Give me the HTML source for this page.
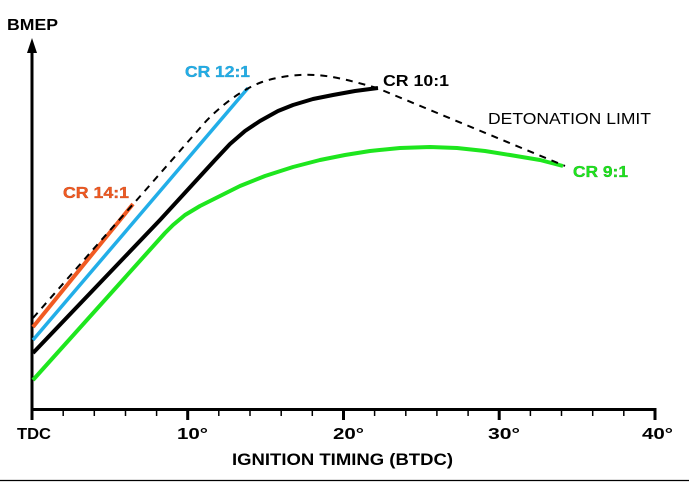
<!DOCTYPE html>
<html>
<head>
<meta charset="utf-8">
<style>
html,body{margin:0;padding:0;background:#fff;}
svg{display:block;}
text{font-family:"Liberation Sans",sans-serif;}
</style>
</head>
<body>
<svg width="689" height="487" viewBox="0 0 689 487" xmlns="http://www.w3.org/2000/svg">
<rect width="689" height="487" fill="#fff"/>
<line x1="0" y1="480.5" x2="689" y2="480.5" stroke="#000" stroke-width="1.2"/>
<line x1="32" y1="50" x2="32" y2="411" stroke="#000" stroke-width="3"/>
<polygon points="32,38 27,53 37,53" fill="#000"/>
<line x1="30.5" y1="409.5" x2="656.5" y2="409.5" stroke="#000" stroke-width="3"/>
<g stroke="#000" stroke-width="3">
<line x1="32" y1="409" x2="32" y2="420"/>
<line x1="187.7" y1="409" x2="187.7" y2="420"/>
<line x1="343.5" y1="409" x2="343.5" y2="420"/>
<line x1="499.2" y1="409" x2="499.2" y2="420"/>
<line x1="655" y1="409" x2="655" y2="420"/>
</g>
<g stroke="#000" stroke-width="1.5">
<line x1="63.2" y1="410" x2="63.2" y2="416"/>
<line x1="94.3" y1="410" x2="94.3" y2="416"/>
<line x1="125.5" y1="410" x2="125.5" y2="416"/>
<line x1="156.6" y1="410" x2="156.6" y2="416"/>
<line x1="218.8" y1="410" x2="218.8" y2="416"/>
<line x1="250" y1="410" x2="250" y2="416"/>
<line x1="281.2" y1="410" x2="281.2" y2="416"/>
<line x1="312.3" y1="410" x2="312.3" y2="416"/>
<line x1="374.6" y1="410" x2="374.6" y2="416"/>
<line x1="405.8" y1="410" x2="405.8" y2="416"/>
<line x1="436.9" y1="410" x2="436.9" y2="416"/>
<line x1="468.1" y1="410" x2="468.1" y2="416"/>
<line x1="530.4" y1="410" x2="530.4" y2="416"/>
<line x1="561.5" y1="410" x2="561.5" y2="416"/>
<line x1="592.7" y1="410" x2="592.7" y2="416"/>
<line x1="623.8" y1="410" x2="623.8" y2="416"/>
</g>

<polyline fill="none" stroke="#1ee61e" stroke-width="4" stroke-linejoin="round" stroke-linecap="butt"
 points="33,380 165,233 173,225 185,215 200,206 220,196 240,186 265,176 293,167 320,160 345,155 370,151 400,148 430,147 457,148 485,151 510,155 540,160 563,166"/>
<polyline fill="none" stroke="#000" stroke-width="4" stroke-linejoin="round"
 points="33,353 160,220 193,184 215,160 230,144 245,131 260,121 278,111 293,105 313,99 333,95 355,91 378,88"/>
<line x1="33" y1="340" x2="248" y2="88" stroke="#22aee8" stroke-width="3.5"/>
<line x1="33" y1="327" x2="133" y2="204" stroke="#f15a22" stroke-width="4"/>
<path d="M33,318 L97,245 L143,193 L200,128 C215,110 240,90 262,82 C280,76 300,74 315,75 C335,76 355,82 377,88 L565,166"
 fill="none" stroke="#000" stroke-width="2" stroke-dasharray="7 6"/>

<text x="7" y="30" font-size="16" font-weight="bold" textLength="51" lengthAdjust="spacingAndGlyphs">BMEP</text>
<text x="185" y="77" font-size="16" font-weight="bold" fill="#22aee8" stroke="#1a8ab8" stroke-width="0.3" textLength="65" lengthAdjust="spacingAndGlyphs">CR 12:1</text>
<text x="63" y="198" font-size="16" font-weight="bold" fill="#f15a22" stroke="#b03a10" stroke-width="0.3" textLength="66" lengthAdjust="spacingAndGlyphs">CR 14:1</text>
<text x="383" y="86" font-size="16" font-weight="bold" fill="#000" textLength="66" lengthAdjust="spacingAndGlyphs">CR 10:1</text>
<text x="488" y="124" font-size="16" fill="#000" textLength="163" lengthAdjust="spacingAndGlyphs">DETONATION LIMIT</text>
<text x="573" y="177" font-size="16" font-weight="bold" fill="#1ee61e" stroke="#149a14" stroke-width="0.3" textLength="55" lengthAdjust="spacingAndGlyphs">CR 9:1</text>

<text x="17" y="439" font-size="16" font-weight="bold" textLength="34" lengthAdjust="spacingAndGlyphs">TDC</text>
<text x="177" y="439" font-size="16" font-weight="bold" textLength="31" lengthAdjust="spacingAndGlyphs">10°</text>
<text x="333" y="439" font-size="16" font-weight="bold" textLength="31" lengthAdjust="spacingAndGlyphs">20°</text>
<text x="488" y="439" font-size="16" font-weight="bold" textLength="32" lengthAdjust="spacingAndGlyphs">30°</text>
<text x="642" y="439" font-size="16" font-weight="bold" textLength="31" lengthAdjust="spacingAndGlyphs">40°</text>
<text x="232" y="465" font-size="17" font-weight="bold" textLength="221" lengthAdjust="spacingAndGlyphs">IGNITION TIMING (BTDC)</text>
</svg>
</body>
</html>
